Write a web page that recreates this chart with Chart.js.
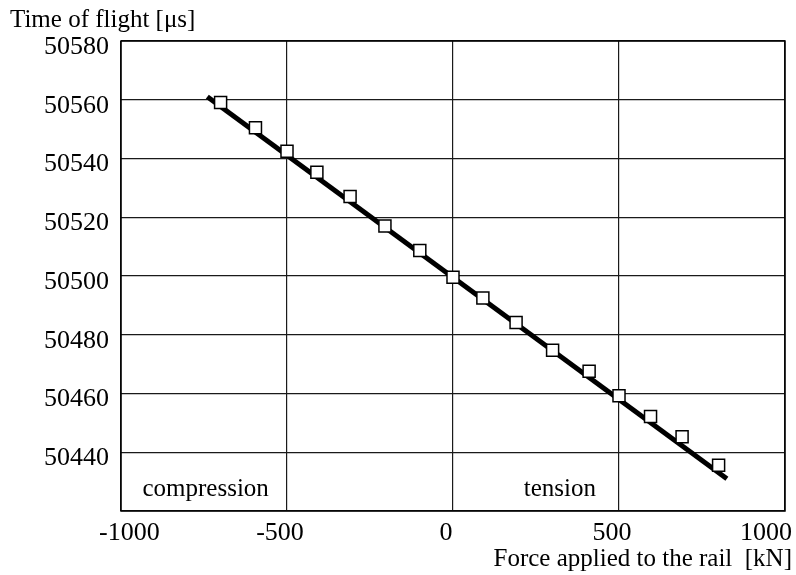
<!DOCTYPE html>
<html>
<head>
<meta charset="utf-8">
<script src="https://cdn.jsdelivr.net/npm/chart.js@4"></script>
<style>
  html, body { margin: 0; padding: 0; background: #fff; }
  #wrap { width: 796px; height: 575px; }
</style>
</head>
<body>
<div id="wrap"><canvas id="c" width="796" height="575"></canvas></div>
<script>
// measured time of flight vs. applied rail force
const forceKN = [-700, -595, -500, -410, -310, -205, -100, 0, 90, 190, 300, 410, 500, 595, 690, 800];
const timeUs = [50559.1, 50550.5, 50542.5, 50535.3, 50527.1, 50517.0, 50508.7, 50499.6,
                50492.5, 50484.2, 50474.7, 50467.6, 50459.2, 50452.2, 50445.3, 50435.6];

// linear fit endpoints
const fitForce = [-740, 825];
const fitTime = [50561, 50431];

const xTicks = [-1000, -500, 0, 500, 1000];
const yTicks = [50440, 50460, 50480, 50500, 50520, 50540, 50560, 50580];

const serif = '"Liberation Serif", "Times New Roman", serif';

const textPlugin = {
    id: 'textPlugin',
    afterDraw(chart) {
        const ctx = chart.ctx;
        const a = chart.chartArea;
        const xs = chart.scales.x;
        const ys = chart.scales.y;
        ctx.save();
        // frame
        ctx.strokeStyle = '#000';
        ctx.lineWidth = 1.5;
        ctx.strokeRect(a.left, a.top, a.right - a.left, a.bottom - a.top);

        ctx.fillStyle = '#000';
        ctx.font = '25px ' + serif;
        ctx.textBaseline = 'alphabetic';
        ctx.textAlign = 'left';
        ctx.fillText('Time of flight [\u03bcs]', 10, 27);

        ctx.textAlign = 'right';
        ctx.fillText('Force applied to the rail  [kN]', chart.width - 4, 566);

        ctx.textAlign = 'center';
        ctx.textBaseline = 'middle';
        ctx.fillText('compression', xs.getPixelForValue(-745), ys.getPixelForValue(50427.2));
        ctx.fillText('tension', xs.getPixelForValue(322), ys.getPixelForValue(50427.2));

        // x tick labels, kept inside the canvas
        ctx.font = '26px ' + serif;
        ctx.textAlign = 'left';
        xTicks.forEach(v => {
            const s = String(v);
            const w = ctx.measureText(s).width;
            let px = xs.getPixelForValue(v) - w / 2 - 7;
            px = Math.max(a.left - 22, Math.min(px, chart.width - 4 - w));
            ctx.fillText(s, px, 533);
        });
        ctx.restore();
    }
};

new Chart(document.getElementById('c'), {
    type: 'scatter',
    data: {
        datasets: [{
            label: 'measured',
            data: forceKN.map((f, i) => ({x: f, y: timeUs[i]})),
            pointStyle: 'rect',
            pointRadius: 8.5,
            pointHoverRadius: 8.5,
            pointBackgroundColor: '#fff',
            pointBorderColor: '#000',
            pointBorderWidth: 1.5
        }, {
            label: 'fit',
            type: 'line',
            data: fitForce.map((f, i) => ({x: f, y: fitTime[i]})),
            borderColor: '#000',
            borderWidth: 5,
            pointRadius: 0,
            fill: false
        }]
    },
    options: {
        responsive: false,
        animation: false,
        events: [],
        layout: { padding: { left: 0, right: 11, top: 41, bottom: 0 } },
        plugins: {
            legend: { display: false },
            tooltip: { enabled: false }
        },
        scales: {
            x: {
                type: 'linear',
                min: -1000,
                max: 1000,
                ticks: { display: false, stepSize: 500 },
                grid: { color: '#1a1a1a', lineWidth: 1.2, drawTicks: false },
                border: { display: false },
                afterFit(scale) { scale.height = 64; }
            },
            y: {
                min: 50420,
                max: 50580,
                ticks: {
                    stepSize: 20,
                    padding: 12,
                    labelOffset: 6,
                    color: '#000',
                    font: { family: serif, size: 26 },
                    callback: v => yTicks.includes(v) ? String(v) : ''
                },
                grid: { color: '#1a1a1a', lineWidth: 1.2, drawTicks: false },
                border: { display: false },
                afterFit(scale) { scale.width = 121; }
            }
        }
    },
    plugins: [textPlugin]
});
</script>
</body>
</html>
